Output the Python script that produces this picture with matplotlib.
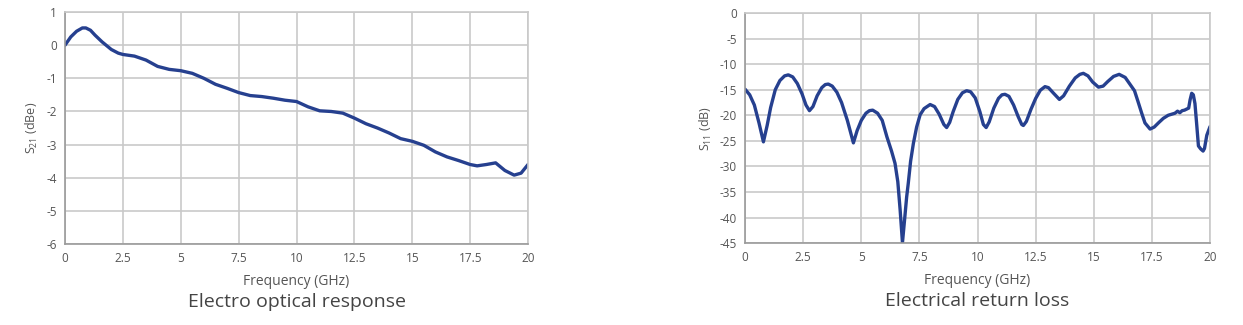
import matplotlib
matplotlib.use("Agg")
import matplotlib.pyplot as plt

plt.rcParams['font.family'] = ['Open Sans', 'DejaVu Sans']

# Electro optical response (S21)
freq_s21 = [0, 0.25, 0.5, 0.75, 0.9, 1.1, 1.3, 1.6, 2.0, 2.3, 2.5, 3.0, 3.5, 4.0, 4.5, 5.0, 5.5, 6.0,
            6.5, 7.0, 7.5, 8.0, 8.5, 9.0, 9.5, 10.0, 10.5, 11.0, 11.5, 12.0, 12.5, 13.0, 13.5,
            14.0, 14.5, 15.0, 15.5, 16.0, 16.5, 17.0, 17.5, 17.8, 18.2, 18.6, 19.0, 19.4, 19.7, 20.0]
s21 = [0.0, 0.25, 0.42, 0.52, 0.52, 0.45, 0.3, 0.1, -0.13, -0.24, -0.28, -0.33, -0.45, -0.64, -0.73,
       -0.77, -0.85, -1.0, -1.18, -1.3, -1.43, -1.52, -1.55, -1.6, -1.66, -1.7, -1.86, -1.98, -2.0,
       -2.05, -2.2, -2.37, -2.5, -2.65, -2.82, -2.9, -3.02, -3.22, -3.37, -3.48, -3.6, -3.64, -3.6,
       -3.55, -3.78, -3.92, -3.86, -3.6]

# Electrical return loss (S11)
freq_s11 = [0.0, 0.2, 0.4, 0.6, 0.79, 0.95, 1.1, 1.3, 1.5, 1.7, 1.86, 2.05, 2.25, 2.45, 2.62, 2.77,
            2.92, 3.1, 3.3, 3.45, 3.58, 3.75, 3.95, 4.15, 4.4, 4.66, 4.82, 5.0, 5.2, 5.35, 5.49,
            5.7, 5.9, 6.1, 6.3, 6.45, 6.57, 6.67, 6.77, 6.87, 6.95, 7.02, 7.12, 7.24, 7.38, 7.53,
            7.7, 7.96, 8.15, 8.35, 8.55, 8.67, 8.8, 8.95, 9.15, 9.35, 9.53, 9.7, 9.9, 10.1, 10.25,
            10.37, 10.5, 10.7, 10.9, 11.05, 11.18, 11.35, 11.55, 11.75, 11.9, 11.97, 12.1, 12.3,
            12.5, 12.7, 12.9, 13.05, 13.25, 13.52, 13.7, 13.95, 14.2, 14.4, 14.55, 14.75, 14.95,
            15.2, 15.4, 15.6, 15.85, 16.09, 16.35, 16.55, 16.75, 16.9, 17.06, 17.2, 17.42, 17.6,
            17.8, 17.99, 18.2, 18.49, 18.6, 18.7, 18.8, 18.9, 18.99, 19.08, 19.14, 19.21, 19.28,
            19.35, 19.42, 19.5, 19.6, 19.7, 19.76, 19.86, 20.0]
s11 = [-14.9, -16.0, -18.0, -21.5, -25.2, -22.0, -18.5, -15.0, -13.2, -12.3, -12.1, -12.5, -13.8,
       -15.8, -18.0, -19.1, -18.3, -16.2, -14.6, -14.0, -13.9, -14.3, -15.5, -17.5, -21.0, -25.4,
       -23.0, -21.0, -19.6, -19.1, -19.0, -19.6, -21.0, -24.2, -27.0, -29.4, -33.0, -38.5, -44.9,
       -40.0, -36.0, -33.3, -29.0, -25.5, -22.3, -19.9, -18.7, -17.9, -18.3, -19.8, -21.8, -22.4,
       -21.4, -19.3, -16.9, -15.6, -15.2, -15.4, -16.6, -19.3, -21.8, -22.4, -21.3, -18.6, -16.7,
       -16.0, -15.9, -16.3, -18.0, -20.3, -21.8, -22.0, -21.2, -18.8, -16.7, -15.1, -14.4, -14.6,
       -15.6, -16.9, -16.2, -14.3, -12.7, -12.0, -11.8, -12.3, -13.5, -14.5, -14.3, -13.4, -12.4,
       -12.0, -12.6, -13.9, -15.2, -17.3, -19.6, -21.5, -22.7, -22.3, -21.4, -20.6, -20.0, -19.6,
       -19.2, -19.5, -19.1, -19.0, -18.8, -18.6, -17.0, -15.7, -16.0, -17.7, -21.5, -26.0, -26.6,
       -27.0, -26.5, -23.9, -22.2]

x_ticks = [0, 2.5, 5, 7.5, 10, 12.5, 15, 17.5, 20]
x_tick_labels = ['0', '2.5', '5', '7.5', '10', '12.5', '15', '17.5', '20']
s21_ticks = [1, 0, -1, -2, -3, -4, -5, -6]
s11_ticks = [0, -5, -10, -15, -20, -25, -30, -35, -40, -45]

line_color = '#26408f'
grid_color = '#c9c9c9'
text_color = '#555555'

fig = plt.figure(figsize=(12.43, 3.25), dpi=100)
ax1 = fig.add_axes([0.0523, 0.249, 0.3725, 0.714])
ax2 = fig.add_axes([0.5994, 0.252, 0.3741, 0.708])


def style(ax, yticks, ylabel, title):
    ax.set_xlim(0, 20)
    ax.set_ylim(min(yticks), max(yticks))
    ax.set_xticks(x_ticks)
    ax.set_xticklabels(x_tick_labels)
    ax.set_yticks(yticks)
    ax.set_yticklabels([str(t) for t in yticks])
    ax.grid(True, color=grid_color, linewidth=1.2)
    ax.set_axisbelow(True)
    for s in ['top', 'right']:
        ax.spines[s].set_color(grid_color)
        ax.spines[s].set_linewidth(1.2)
    for s in ['left', 'bottom']:
        ax.spines[s].set_color('#9a9a9a')
        ax.spines[s].set_linewidth(1.2)
    ax.tick_params(length=0, labelsize=8.5, labelcolor=text_color, pad=6)
    ax.set_ylabel(ylabel, fontsize=9, color=text_color, labelpad=4)
    ax.set_xlabel('Frequency (GHz)', fontsize=10, color=text_color, labelpad=6)
    ax.text(0.5, -0.25, title, transform=ax.transAxes, ha='center', va='center',
            fontsize=14, color='#444444')


ax1.plot(freq_s21, s21, color=line_color, linewidth=2.4, solid_capstyle='round',
         solid_joinstyle='round')
style(ax1, s21_ticks, r'$\mathregular{S_{21}}$ (dBe)', 'Electro optical response')

ax2.plot(freq_s11, s11, color=line_color, linewidth=2.4, solid_capstyle='round',
         solid_joinstyle='round')
style(ax2, s11_ticks, r'$\mathregular{S_{11}}$ (dB)', 'Electrical return loss')

fig.savefig('out.png', dpi=100)
